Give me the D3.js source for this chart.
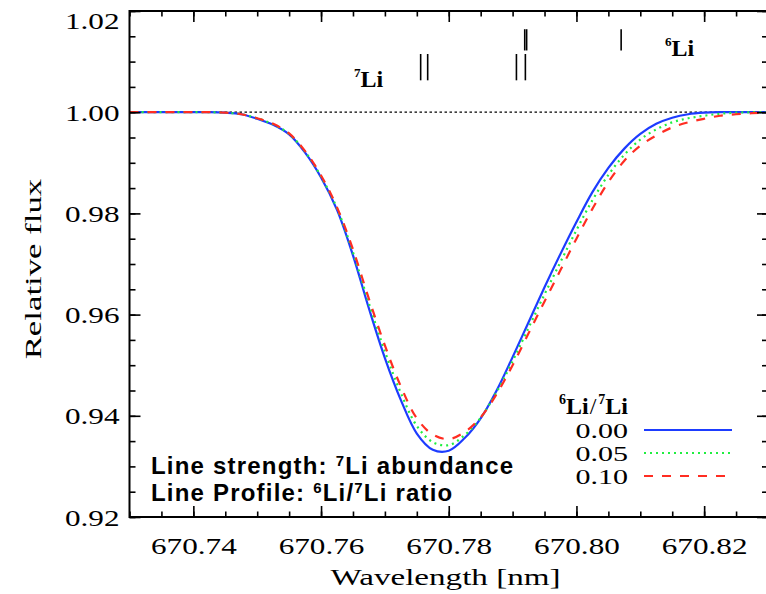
<!DOCTYPE html>
<html>
<head>
<meta charset="utf-8">
<script src="https://cdn.jsdelivr.net/npm/d3@7"></script>
<style>
  body { margin: 0; background: #fff; }
  svg { display: block; }
</style>
</head>
<body>
<div class="divCard"></div>
<script>
// wavelength grid [nm] and the three model profiles
var lambda = [670.7300, 670.7325, 670.7350, 670.7375, 670.7400, 670.7425, 670.7450, 670.7475,
              670.7500, 670.7525, 670.7550, 670.7575, 670.7600, 670.7625, 670.7650, 670.7675,
              670.7700, 670.7725, 670.7750, 670.7775, 670.7800, 670.7825, 670.7850, 670.7875,
              670.7900, 670.7925, 670.7950, 670.7975, 670.8000, 670.8025, 670.8050, 670.8075,
              670.8100, 670.8125, 670.8150, 670.8175, 670.8200, 670.8225, 670.8250, 670.8275,
              670.8300];
var flux000 = [1.0000, 1.0000, 1.0000, 1.0000, 1.0000, 1.0000, 0.9999, 0.9996,
               0.9987, 0.9975, 0.9956, 0.9920, 0.9871, 0.9807, 0.9717, 0.9612,
               0.9514, 0.9431, 0.9365, 0.9333, 0.9331, 0.9356, 0.9395, 0.9450,
               0.9516, 0.9585, 0.9654, 0.9720, 0.9783, 0.9842, 0.9890, 0.9928,
               0.9957, 0.9977, 0.9989, 0.9996, 0.9999, 1.0000, 1.0000, 1.0000,
               1.0000];
var flux005 = [1.0000, 1.0000, 1.0000, 1.0000, 1.0000, 1.0000, 0.9999, 0.9996,
               0.9988, 0.9976, 0.9957, 0.9922, 0.9873, 0.9810, 0.9723, 0.9622,
               0.9527, 0.9445, 0.9380, 0.9348, 0.9342, 0.9362, 0.9396, 0.9447,
               0.9508, 0.9574, 0.9640, 0.9704, 0.9767, 0.9826, 0.9876, 0.9916,
               0.9946, 0.9966, 0.9980, 0.9988, 0.9993, 0.9997, 0.9999, 1.0000,
               1.0000];
var flux010 = [1.0000, 1.0000, 1.0000, 1.0000, 1.0000, 1.0000, 0.9999, 0.9996,
               0.9988, 0.9977, 0.9958, 0.9923, 0.9875, 0.9812, 0.9729, 0.9631,
               0.9539, 0.9458, 0.9395, 0.9363, 0.9354, 0.9368, 0.9397, 0.9443,
               0.9500, 0.9563, 0.9626, 0.9688, 0.9750, 0.9809, 0.9862, 0.9904,
               0.9934, 0.9954, 0.9970, 0.9980, 0.9987, 0.9993, 0.9996, 0.9998,
               1.0000];

var ratioLabels = ["0.00", "0.05", "0.10"];
var li7Lines = [670.7756, 670.7767, 670.7906, 670.7920];
var li6Lines = [670.7919, 670.7922, 670.8070];

var xMajor = [670.74, 670.76, 670.78, 670.80, 670.82];
var xMinor = d3.range(0, 21).map(function(i) { return +(670.73 + i * 0.005).toFixed(3); });
var yMajor = [0.92, 0.94, 0.96, 0.98, 1.00, 1.02];
var yMinor = d3.range(0, 21).map(function(i) { return +(0.92 + i * 0.005).toFixed(3); });

var serifFont = "'Liberation Serif', 'DejaVu Serif', serif";
var sansFont = "'Liberation Sans', Arial, sans-serif";
var sx = 1.3; // the plotting font is a wide roman, so stretch Times sideways

var W = 766, H = 594;
var margin = { top: 11, right: -2, bottom: 77, left: 129.5 };
var w = W - margin.left - margin.right,
    h = H - margin.top - margin.bottom;

var xScale = d3.scaleLinear().domain([670.73, 670.83]).range([0, w]);
var yScale = d3.scaleLinear().domain([0.92, 1.02]).range([h, 0]);

var svg = d3.select(".divCard")
  .append("svg")
  .attr("width", W)
  .attr("height", H)
  .append("g")
  .attr("transform", "translate(" + margin.left + "," + margin.top + ")");

svg.append("clipPath").attr("id", "clip")
  .append("rect").attr("width", w).attr("height", h);

// continuum
svg.append("line")
  .attr("x1", 0).attr("x2", w)
  .attr("y1", yScale(1.0)).attr("y2", yScale(1.0))
  .attr("stroke", "#000")
  .attr("stroke-width", 1.3)
  .attr("stroke-dasharray", "2.5,2.5");

var series = [
  { label: ratioLabels[0], values: flux000, color: "#1d3cff", dash: null, width: 2.2 },
  { label: ratioLabels[1], values: flux005, color: "#20ee40", dash: "2,4", width: 2.2 },
  { label: ratioLabels[2], values: flux010, color: "#ff2d22", dash: "9,9", width: 2.2 }
];

var line = d3.line()
  .x(function(d) { return xScale(d[0]); })
  .y(function(d) { return yScale(d[1]); })
  .curve(d3.curveCatmullRom);

series.forEach(function(s) {
  svg.append("path")
    .datum(lambda.map(function(l, i) { return [l, s.values[i]]; }))
    .attr("clip-path", "url(#clip)")
    .attr("fill", "none")
    .attr("stroke", s.color)
    .attr("stroke-width", s.width)
    .attr("stroke-dasharray", s.dash)
    .attr("d", line);
});

// axes, ticks pointing inward
function styleAxis(g) {
  g.select(".domain").remove();
  g.selectAll(".tick line").attr("stroke", "#000").attr("stroke-width", 1.6);
  g.selectAll("text")
    .attr("font-family", serifFont)
    .attr("font-size", "24px")
    .attr("fill", "#000");
}

svg.append("g")
  .attr("transform", "translate(0," + h + ")")
  .call(d3.axisBottom(xScale).tickValues(xMinor).tickSize(-5.5).tickFormat(""))
  .call(styleAxis);
var xAx = svg.append("g")
  .attr("transform", "translate(0," + h + ")")
  .call(d3.axisBottom(xScale).tickValues(xMajor).tickSize(-11).tickPadding(20).tickFormat(d3.format(".2f")))
  .call(styleAxis);
xAx.selectAll("text").attr("transform", "scale(" + sx + ",1)");

svg.append("g")
  .call(d3.axisTop(xScale).tickValues(xMinor).tickSize(-5.5).tickFormat(""))
  .call(styleAxis);
svg.append("g")
  .call(d3.axisTop(xScale).tickValues(xMajor).tickSize(-11).tickFormat(""))
  .call(styleAxis);

svg.append("g")
  .call(d3.axisLeft(yScale).tickValues(yMinor).tickSize(-6).tickFormat(""))
  .call(styleAxis);
var yAx = svg.append("g")
  .call(d3.axisLeft(yScale).tickValues(yMajor).tickSize(-11).tickPadding(8).tickFormat(d3.format(".2f")))
  .call(styleAxis);
yAx.selectAll("text")
  .attr("x", -10 / sx)
  .attr("transform", "scale(" + sx + ",1)")
  .attr("dy", function(d) { return d > 1.01 ? "0.72em" : "0.34em"; });

svg.append("g")
  .attr("transform", "translate(" + w + ",0)")
  .call(d3.axisRight(yScale).tickValues(yMinor).tickSize(-6).tickFormat(""))
  .call(styleAxis);
svg.append("g")
  .attr("transform", "translate(" + w + ",0)")
  .call(d3.axisRight(yScale).tickValues(yMajor).tickSize(-11).tickFormat(""))
  .call(styleAxis);

// frame
svg.append("rect")
  .attr("width", w).attr("height", h)
  .attr("fill", "none")
  .attr("stroke", "#000")
  .attr("stroke-width", 2);

// axis titles
svg.append("text")
  .attr("transform", "translate(" + xScale(670.7795) + "," + (h + 68) + ") scale(1.38,1)")
  .attr("text-anchor", "middle")
  .attr("font-family", serifFont)
  .attr("font-size", "24px")
  .text("Wavelength [nm]");

svg.append("text")
  .attr("transform", "translate(" + (-margin.left + 41) + "," + yScale(0.969) + ") rotate(-90) scale(1.45,1)")
  .attr("text-anchor", "middle")
  .attr("font-family", serifFont)
  .attr("font-size", "24px")
  .text("Relative flux");

// line positions of 7Li and 6Li
svg.selectAll(".li7")
  .data(li7Lines)
  .enter()
  .append("line")
  .attr("class", "li7")
  .attr("x1", function(d) { return xScale(d); })
  .attr("x2", function(d) { return xScale(d); })
  .attr("y1", yScale(1.0115))
  .attr("y2", yScale(1.0063))
  .attr("stroke", "#000")
  .attr("stroke-width", 1.6);

svg.selectAll(".li6")
  .data(li6Lines)
  .enter()
  .append("line")
  .attr("class", "li6")
  .attr("x1", function(d) { return xScale(d); })
  .attr("x2", function(d) { return xScale(d); })
  .attr("y1", yScale(1.0164))
  .attr("y2", yScale(1.0122))
  .attr("stroke", "#000")
  .attr("stroke-width", 1.6);

function isoLabel(g, x, y, mass, size) {
  var t = g.append("text")
    .attr("x", x)
    .attr("y", y)
    .attr("font-family", serifFont)
    .attr("font-weight", "bold")
    .attr("font-size", size + "px");
  t.append("tspan").attr("font-size", (size * 0.55) + "px").attr("dy", -size * 0.42).text(mass);
  t.append("tspan").attr("dy", size * 0.42).text("Li");
  return t;
}

isoLabel(svg, 354 - margin.left, 87 - margin.top, "7", 24);
isoLabel(svg, 665 - margin.left, 56 - margin.top, "6", 24);

// legend
var legend = svg.append("g")
  .attr("transform", "translate(" + (628 - margin.left) + "," + (414 - margin.top) + ")");

var lt = legend.append("text")
  .attr("text-anchor", "end")
  .attr("font-family", serifFont)
  .attr("font-weight", "bold")
  .attr("font-size", "24px");
lt.append("tspan").attr("font-size", "14px").attr("dy", -10).text("6");
lt.append("tspan").attr("dy", 10).text("Li");
lt.append("tspan").attr("font-weight", "normal").attr("dx", 1).text("/");
lt.append("tspan").attr("font-size", "14px").attr("dy", -10).attr("dx", 2).text("7");
lt.append("tspan").attr("dy", 10).text("Li");

var item = legend.selectAll(".item")
  .data(series)
  .enter()
  .append("g")
  .attr("class", "item")
  .attr("transform", function(d, i) { return "translate(0," + (16 + i * 23) + ")"; });

item.append("text")
  .attr("transform", "translate(0,8) scale(1.5,1)")
  .attr("text-anchor", "end")
  .attr("font-family", serifFont)
  .attr("font-size", "20px")
  .text(function(d) { return d.label; });

item.append("line")
  .attr("x1", 16).attr("x2", 104)
  .attr("y1", 0).attr("y2", 0)
  .attr("stroke", function(d) { return d.color; })
  .attr("stroke-width", 2)
  .attr("stroke-dasharray", function(d) { return d.dash; });

// annotation, both lines in one text block
var noteX = 151 - margin.left;
var note = svg.append("text")
  .attr("x", noteX)
  .attr("y", 474 - margin.top)
  .attr("font-family", sansFont)
  .attr("font-weight", "bold")
  .attr("font-size", "24px")
  .attr("letter-spacing", "1.2px");

note.append("tspan").text("Line strength: ");
note.append("tspan").attr("font-size", "15px").attr("dy", -8).text("7");
note.append("tspan").attr("dy", 8).text("Li abundance");
note.append("tspan").attr("x", noteX).attr("dy", 27).text("Line Profile: ");
note.append("tspan").attr("font-size", "15px").attr("dy", -8).text("6");
note.append("tspan").attr("dy", 8).text("Li/");
note.append("tspan").attr("font-size", "15px").attr("dy", -8).text("7");
note.append("tspan").attr("dy", 8).text("Li ratio");
</script>
</body>
</html>
